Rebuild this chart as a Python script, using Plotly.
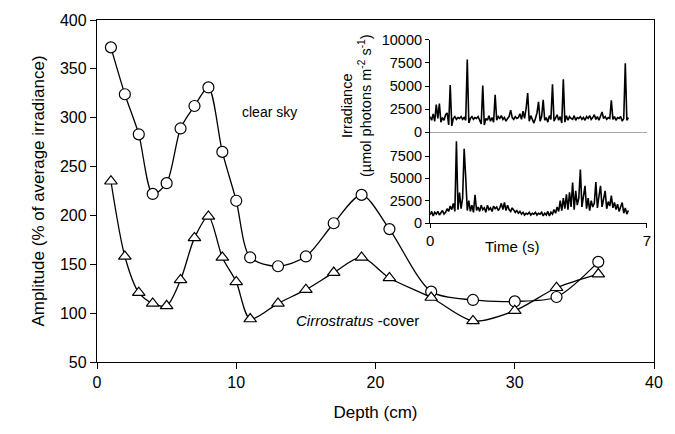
import plotly.graph_objects as go

# ---- main chart data ----
depth = [1, 2, 3, 4, 5, 6, 7, 8, 9, 10, 11, 13, 15, 17, 19, 21, 24, 27, 30, 33, 36]
clear_sky = [372, 324, 283, 222, 233, 289, 312, 331, 265, 215, 157, 148, 158, 192, 221, 186,
             122, 113.5, 112, 116.5, 152.5]
cirrostratus = [235, 158, 121, 110, 107.5, 134, 177, 199, 157, 132, 94, 110, 124, 141.5, 157, 136,
                116, 92, 102.5, 126, 140]
x_ticks = [0, 10, 20, 30, 40]
y_ticks = [50, 100, 150, 200, 250, 300, 350, 400]

# ---- inset data (irradiance, sampled every 0.05 s from 0 s) ----
sample_dt = 0.05
irr_clear = [1700, 1300, 2000, 1200, 3000, 1500, 3100, 1100, 1600, 1300,
             1900, 2100, 800, 5100, 700, 1500, 1700, 1400, 1600, 1500,
             1700, 1400, 1600, 1300, 7870, 1000, 1500, 1700, 1400, 1600,
             1500, 1700, 1300, 900, 5050, 800, 1500, 1300, 1800, 1200,
             1600, 1100, 4060, 1300, 1700, 1500, 1800, 1400, 1600, 1200,
             1500, 1700, 2400, 1600, 1400, 1700, 1500, 1600, 2000, 1400,
             2300, 1500, 2600, 4240, 1200, 1800, 1400, 1000, 1500, 2100,
             3300, 1200, 1700, 3500, 1300, 1600, 1100, 1800, 1400, 5190,
             1200, 1600, 1900, 1300, 1700, 1000, 5720, 1100, 1800, 1300,
             1700, 1500, 1400, 1800, 1300, 1600, 1500, 1700, 1400, 1600,
             1300, 1700, 1500, 1800, 1400, 1600, 1900, 1400, 1700, 1300,
             1800, 2200, 1500, 1700, 1400, 1600, 1500, 3460, 1400, 1700,
             1300, 1600, 1500, 1700, 1200, 1500, 7450, 1300, 1600]
irr_cirro = [900, 1300, 800, 1200, 1000, 1300, 900, 1100, 1400, 1000,
             1200, 1600, 1300, 1900, 1500, 2200, 1300, 9150, 1500, 3400,
             1600, 2800, 8300, 5100, 1400, 2500, 1300, 2000, 1200, 3170,
             1400, 1800, 1300, 2000, 1500, 1700, 1200, 2000, 1500, 1700,
             1300, 1900, 1600, 1800, 1400, 1700, 2200, 1500, 2300, 1400,
             2000, 1500, 1300, 1700, 1500, 1200, 1400, 1100, 1300, 1000,
             1200, 900, 1100, 1000, 1200, 900, 1100, 1000, 1200, 900,
             1100, 1000, 1200, 800, 1100, 900, 1300, 800, 1200, 1000,
             1500, 1100, 1800, 1300, 2500, 1400, 2800, 1600, 3200, 1500,
             3430, 1800, 4540, 1500, 3600, 2000, 2800, 6000, 1800, 3200,
             4170, 1600, 2800, 1400, 2500, 1800, 2200, 4600, 1700, 3000,
             4170, 1800, 2600, 3600, 1600, 2400, 1900, 3060, 1700, 2300,
             1500, 2100, 1300, 1800, 2300, 1100, 1700, 1000, 1400]
inset_y_ticks_top = [0, 2500, 5000, 7500, 10000]
inset_y_ticks_bottom = [0, 2500, 5000, 7500]
inset_x_ticks = [0, 7]

FONT = "Liberation Sans, Arial, sans-serif"

fig = go.Figure()

fig.add_trace(go.Scatter(
    x=depth, y=clear_sky, mode="lines+markers",
    line=dict(color="black", width=1.3, shape="spline", smoothing=0.8),
    marker=dict(symbol="circle", size=11, color="white", line=dict(color="black", width=1.2)),
    xaxis="x", yaxis="y", name="clear sky"))
fig.add_trace(go.Scatter(
    x=depth, y=cirrostratus, mode="lines+markers",
    line=dict(color="black", width=1.3, shape="spline", smoothing=0.8),
    marker=dict(symbol="triangle-up", size=11, color="white", line=dict(color="black", width=1.2)),
    xaxis="x", yaxis="y", name="Cirrostratus-cover"))

fig.add_trace(go.Scatter(
    y=irr_clear, x0=0, dx=sample_dt, mode="lines",
    line=dict(color="black", width=1.6), xaxis="x2", yaxis="y2"))
fig.add_trace(go.Scatter(
    y=irr_cirro, x0=0, dx=sample_dt, mode="lines",
    line=dict(color="black", width=1.6), xaxis="x3", yaxis="y3"))

axis_common = dict(showline=True, linecolor="black", linewidth=1.3, showgrid=False,
                   zeroline=False, ticks="outside", tickcolor="black", tickwidth=1.2)

# plot area: x 97..654 px, y 15..362 px
fig.update_layout(
    width=675, height=434,
    margin=dict(l=97, r=21, t=15, b=72),
    plot_bgcolor="white", paper_bgcolor="white",
    showlegend=False,
    font=dict(family=FONT, size=16, color="black"),
    xaxis=dict(range=[0, 40], tickvals=x_ticks, ticklen=6, mirror=True,
               tickfont=dict(size=16),
               title=dict(text="Depth (cm)", standoff=15, font=dict(size=17)),
               **axis_common),
    yaxis=dict(range=[50, 400], tickvals=y_ticks, ticklen=6, mirror=True,
               tickfont=dict(size=16),
               title=dict(text="Amplitude (% of average irradiance)", standoff=10, font=dict(size=17)),
               **axis_common),
    xaxis2=dict(domain=[0.598, 0.9874], anchor="y2", range=[0, 7],
                showline=True, linecolor="black", linewidth=1.3, showgrid=False,
                zeroline=False, showticklabels=False, ticks=""),
    yaxis2=dict(domain=[0.6715, 0.9424], anchor="x2", range=[0, 10000],
                tickvals=inset_y_ticks_top, tickformat="d", ticklen=4,
                tickfont=dict(size=14.5), **axis_common),
    xaxis3=dict(domain=[0.598, 0.9874], anchor="y3", range=[0, 7],
                tickvals=inset_x_ticks, ticklen=4, tickfont=dict(size=15),
                **axis_common),
    yaxis3=dict(domain=[0.4063, 0.6715], anchor="x3", range=[0, 10150],
                tickvals=inset_y_ticks_bottom, tickformat="d", ticklen=4,
                tickfont=dict(size=14.5), **axis_common),
    annotations=[
        dict(text="clear sky", x=12.4, y=306, xref="x", yref="y", showarrow=False,
             font=dict(size=14)),
        dict(text="<i>Cirrostratus</i> -cover", x=18.7, y=92, xref="x", yref="y",
             showarrow=False, font=dict(size=15)),
        dict(text="Time (s)", x=0.797, y=0.337, xref="paper", yref="paper",
             showarrow=False, font=dict(size=15)),
        dict(text="Irradiance<br>(µmol photons m<sup>-2</sup> s<sup>-1</sup>)",
             x=0.467, y=0.749, xref="paper", yref="paper", textangle=-90,
             xanchor="center", yanchor="middle",
             showarrow=False, font=dict(size=14.5)),
    ],
)

fig.write_html("out.html")
